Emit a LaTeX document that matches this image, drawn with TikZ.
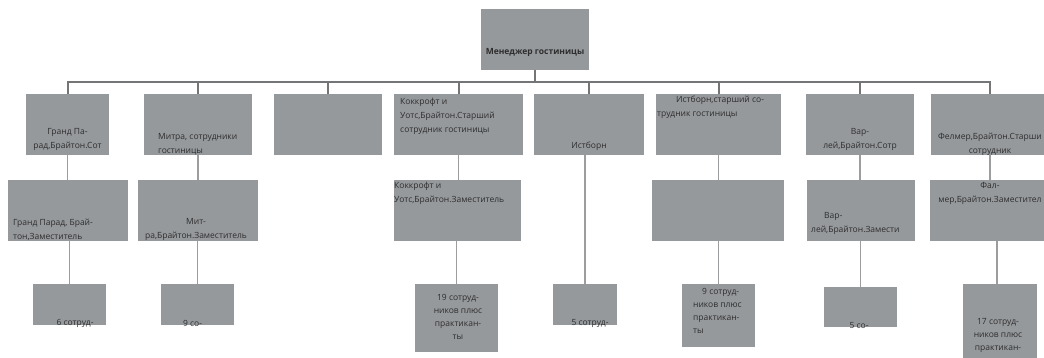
\documentclass[tikz,border=0pt]{standalone}
\usepackage{fontspec}
\setmainfont{Open Sans}
\definecolor{boxgrey}{RGB}{150,153,156}
\definecolor{trunkgrey}{RGB}{115,117,119}
\definecolor{linkgrey}{RGB}{155,157,159}
\definecolor{txtgrey}{RGB}{45,45,45}
\begin{document}
\begin{tikzpicture}[x=1pt,y=-1pt,
  box/.style 2 args={fill=boxgrey, draw=none, inner sep=0pt, outer sep=0pt,
    minimum width=#1, minimum height=#2},
  txt/.style={text=txtgrey, inner sep=0pt, font=\fontsize{8.5}{14}\selectfont},
  txts/.style={text=txtgrey, inner sep=0pt, font=\fontsize{8.5}{13}\selectfont},
  trunk/.style={draw=trunkgrey, line width=2pt},
  link/.style={draw=linkgrey, line width=1.6pt}]
\useasboundingbox (0,0) rectangle (1044,358);
\clip (0,0) rectangle (1044,358);

% top manager
\node[box={108pt}{61pt}] (mgr) at (535,39.5) {};

% first level
\node[box={83pt}{61pt}]  (gp1) at (67.5,124.5) {};
\node[box={108pt}{61pt}] (m1)  at (198,124.5) {};
\node[box={108pt}{61pt}] (e1)  at (328,124.5) {};
\node[box={129pt}{61pt}] (k1)  at (458.5,124.5) {};
\node[box={110pt}{61pt}] (i1)  at (589,124.5) {};
\node[box={125pt}{61pt}] (is1) at (718.5,124.5) {};
\node[box={108pt}{61pt}] (v1)  at (860,124.5) {};
\node[box={118pt}{61pt}] (f1)  at (990,124.5) {};

% second level
\node[box={120pt}{61pt}] (gp2) at (68,210.5) {};
\node[box={120pt}{61pt}] (m2)  at (198,210.5) {};
\node[box={127pt}{61pt}] (k2)  at (457.5,210.5) {};
\node[box={132pt}{61pt}] (is2) at (718,210.5) {};
\node[box={108pt}{61pt}] (v2)  at (861,210.5) {};
\node[box={120pt}{61pt}] (f2)  at (990,210.5) {};

% third level
\node[box={73pt}{41pt}] (gp3) at (69.5,304.5) {};
\node[box={73pt}{41pt}] (m3)  at (197.5,304.5) {};
\node[box={83pt}{68pt}] (k3)  at (456.5,318) {};
\node[box={64pt}{41pt}] (i3)  at (585,304.5) {};
\node[box={73pt}{63pt}] (is3) at (718.5,315.5) {};
\node[box={73pt}{40pt}] (v3)  at (860.5,307) {};
\node[box={74pt}{86pt}] (f3)  at (1000,327) {};

% trunk from the manager to the first level
\coordinate (bar) at (535,82);
\draw[trunk] (mgr.south) -- (bar);
\foreach \b in {gp1,m1,e1,k1,i1,is1,v1,f1}
  \draw[trunk] (bar) -| (\b.north);

% links between the lower levels
\draw[link] (gp1.south) -- (gp1.south |- gp2.north);
\draw[link] (gp3.north |- gp2.south) -- (gp3.north);
\draw[link] (m1.south) -- (m1.south |- m2.north);
\draw[link] (m3.north |- m2.south) -- (m3.north);
\draw[link] (k1.south) -- (k1.south |- k2.north);
\draw[link] (k3.north |- k2.south) -- (k3.north);
\draw[link] (i3.north |- i1.south) -- (i3.north);
\draw[link] (is1.south) -- (is1.south |- is2.north);
\draw[link] (is3.north |- is2.south) -- (is3.north);
\draw[link] (v1.south) -- (v1.south |- v2.north);
\draw[link] (v3.north |- v2.south) -- (v3.north);
\draw[link] (f1.south) -- (f1.south |- f2.north);
\draw[link] ([xshift=-3pt]f3.north |- f2.south) -- ([xshift=-3pt]f3.north);

% texts
\node[txt, font=\fontsize{8.5}{14}\selectfont\bfseries] (t-mgr) at (535,52) {Менеджер гостиницы};

\node[txt, align=center] (t-gp1) at (67.5,139) {Гранд Па-\\рад,Брайтон.Сот};
\node[txt, align=left, anchor=west] (t-m1) at (158,144) {Митра, сотрудники\\гостиницы};
\node[txt, align=left, anchor=west] (t-k1) at (400,116) {Коккрофт и\\Уотс,Брайтон.Старший\\сотрудник гостиницы};
\node[txt] (t-i1) at (589,146) {Истборн};
\node[txt, align=left, anchor=west] (t-is1) at (657,107.5) {\hspace*{19pt}Истборн,старший со-\\трудник гостиницы};
\node[txt, align=center] (t-v1) at (860,139) {Вар-\\лей,Брайтон.Сотр};
\node[txt, align=center] (t-f1) at (990,144) {Фелмер,Брайтон.Старши\\сотрудник};

\node[txt, align=left, anchor=west] (t-gp2) at (13,229.5) {Гранд Парад, Брай-\\тон,Заместитель};
\node[txt, align=center] (t-m2) at (196,229.5) {Мит-\\ра,Брайтон.Заместитель};
\node[txt, align=left, anchor=west] (t-k2) at (394,193.5) {Коккрофт и\\Уотс,Брайтон.Заместитель};
\node[txt, align=left, anchor=west] (t-v2) at (811,223) {\hspace*{13pt}Вар-\\лей,Брайтон.Замести};
\node[txt, align=center] (t-f2) at (990,193.5) {Фал-\\мер,Брайтон.Заместител};

\node[txts, align=center] (t-k3) at (458,316.5) {19 сотруд-\\ников плюс\\практикан-\\ты};
\node[txts, align=left, anchor=west] (t-is3) at (693,311) {\hspace*{9pt}9 сотруд-\\ников плюс\\практикан-\\ты};
\node[txts, align=center] (t-f3) at (998,335.5) {17 сотруд-\\ников плюс\\практикан-};

% one-line captions cut off just below their boxes
\begin{scope}
  \clip (0,0) rectangle (1044,327.5);
  \node[txts] (t-gp3) at (75,323.5) {6 сотруд-};
  \node[txts] (t-m3) at (192.5,323.5) {9 со-};
  \node[txts] (t-i3) at (590,323.5) {5 сотруд-};
\end{scope}
\begin{scope}
  \clip (800,0) rectangle (920,329.5);
  \node[txts] (t-v3) at (859,325.5) {5 со-};
\end{scope}
\end{tikzpicture}
\end{document}
